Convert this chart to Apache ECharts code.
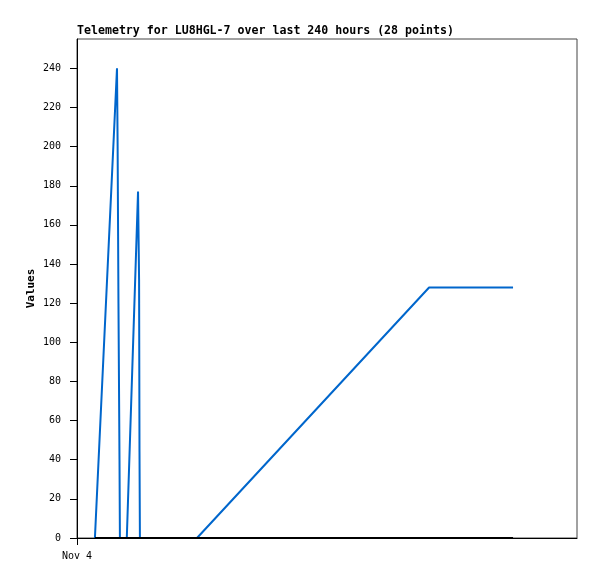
<!DOCTYPE html>
<html>
<head>
<meta charset="utf-8">
<title>Telemetry LU8HGL-7</title>
<script src="https://cdn.jsdelivr.net/npm/echarts@6/dist/echarts.min.js"></script>
<style>
  html, body { margin: 0; padding: 0; background: #fff; }
  #chart { width: 597px; height: 579px; }
</style>
</head>
<body>
<div id="chart"></div>
<script>
// hours since start of window (Nov 4)
const hours = [8.6, 19.2, 19.5, 19.9, 20.4, 20.6, 23.9, 29.3, 29.8, 30.0, 30.2, 57.6, 169.0, 209.3]
// telemetry channel values
const values = [0, 240, 200, 120, 40, 0, 0, 177, 132, 44, 0, 0, 128, 128]
// second channel (flat)
const zeros = [0, 0, 0, 0, 0, 0, 0, 0, 0, 0, 0, 0, 0, 0]
const yTicks = [0, 20, 40, 60, 80, 100, 120, 140, 160, 180, 200, 220, 240]
const xTicks = [0]
const xLabels = ['Nov 4']

const font = 'DejaVu Sans Mono'
const chart = echarts.init(document.getElementById('chart'), null, { renderer: 'canvas' })

const pairs = (xs, ys) => xs.map((x, i) => [x, ys[i]])

const option = {
  backgroundColor: '#fff',
  animation: false,
  title: {
    text: 'Telemetry for LU8HGL-7 over last 240 hours (28 points)',
    left: 72,
    top: 20,
    textStyle: { fontFamily: font, fontSize: 11.6, fontWeight: 'bold', color: '#000' }
  },
  grid: {
    left: 77, right: 20, top: 39, bottom: 41,
    show: true, borderColor: '#444', borderWidth: 1
  },
  xAxis: {
    type: 'value',
    min: 0,
    max: 240,
    splitLine: { show: false },
    axisLine: { lineStyle: { color: '#000', width: 1 } },
    axisTick: { show: true, customValues: xTicks, length: 7, lineStyle: { color: '#000' } },
    axisLabel: {
      customValues: xTicks,
      formatter: (v) => xLabels[xTicks.indexOf(v)] || '',
      margin: 13,
      fontFamily: font, fontSize: 10, color: '#000'
    }
  },
  yAxis: {
    type: 'value',
    min: 0,
    max: 255,
    name: 'Values',
    nameLocation: 'middle',
    nameGap: 40,
    nameMoveOverlap: false,
    nameTextStyle: { fontFamily: font, fontSize: 11, fontWeight: 'bold', color: '#000' },
    splitLine: { show: false },
    axisLine: { show: true, lineStyle: { color: '#000', width: 1 } },
    axisTick: { show: true, customValues: yTicks, length: 7, lineStyle: { color: '#000' } },
    axisLabel: {
      customValues: yTicks,
      margin: 16,
      fontFamily: font, fontSize: 10, color: '#000'
    }
  },
  series: [
    {
      type: 'line',
      data: pairs(hours, values),
      showSymbol: false,
      lineStyle: { color: '#0066cc', width: 2 },
      z: 2
    },
    {
      type: 'line',
      data: pairs(hours, zeros),
      showSymbol: false,
      lineStyle: { color: '#000', width: 2 },
      z: 3
    }
  ]
}

chart.setOption(option)
</script>
</body>
</html>
